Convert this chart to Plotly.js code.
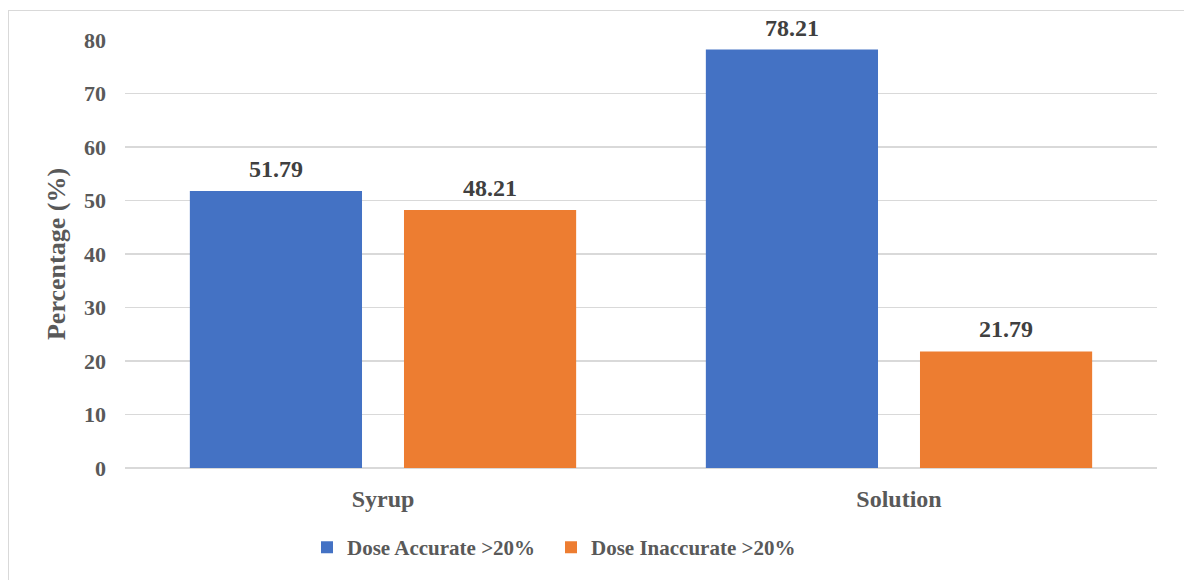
<!DOCTYPE html>
<html>
<head>
<meta charset="utf-8">
<script src="https://cdn.plot.ly/plotly-3.0.1.min.js"></script>
<style>
  html, body { margin: 0; padding: 0; background: #fff; overflow: hidden; }
  #wrap { position: relative; width: 1184px; height: 580px; }
  #frame { position: absolute; left: 8px; top: 10px; width: 1200px; height: 600px;
           border: 1.5px solid #d9d9d9; box-sizing: border-box; pointer-events: none; z-index: 2; }
  #chart { position: absolute; left: 0; top: 0; width: 1184px; height: 580px; }
</style>
</head>
<body>
<div id="wrap">
  <div id="chart"></div>
  <div id="frame"></div>
</div>
<script>
// Dose accuracy by formulation
const categories = ['Syrup', 'Solution'];
const accurate = [51.79, 78.21];
const inaccurate = [48.21, 21.79];
const seriesNames = ['Dose Accurate >20%', 'Dose Inaccurate >20%'];
const yTicks = [0, 10, 20, 30, 40, 50, 60, 70, 80];

const FONT = '"Liberation Serif", "Times New Roman", serif';
const W = 1184, H = 580;
const margin = { l: 125, r: 27, t: 40, b: 110, pad: 0 };
const bargap = 0.17;

// horizontal offset of each bar's centre from its category centre
const plotW = W - margin.l - margin.r;
const groupW = (plotW / categories.length) * (1 - bargap);
const shift = groupW / 4;

const traces = [
  { type: 'bar', name: seriesNames[0], x: categories, y: accurate,
    marker: { color: '#4472C4' }, hoverinfo: 'skip' },
  { type: 'bar', name: seriesNames[1], x: categories, y: inaccurate,
    marker: { color: '#ED7D31' }, hoverinfo: 'skip' }
];

const labelFont = { family: FONT, size: 24, color: '#404040', weight: 'bold' };
const annotations = [];
[accurate, inaccurate].forEach((vals, s) => {
  vals.forEach((v, i) => {
    annotations.push({
      x: categories[i], y: v, xref: 'x', yref: 'y',
      text: v.toFixed(2), showarrow: false,
      xanchor: 'center', yanchor: 'bottom',
      xshift: s === 0 ? -shift : shift, yshift: 7,
      font: labelFont
    });
  });
});

const layout = {
  width: W, height: H,
  margin: margin,
  paper_bgcolor: '#fff', plot_bgcolor: '#fff',
  barmode: 'group', bargap: bargap, bargroupgap: 0.196,
  font: { family: FONT, size: 22, color: '#595959', weight: 'bold' },
  xaxis: {
    type: 'category', showgrid: false, zeroline: false, showline: false,
    ticks: '', ticklabelstandoff: 14,
    tickfont: { family: FONT, size: 24, color: '#595959', weight: 'bold' }
  },
  yaxis: {
    range: [0, 80], tickvals: yTicks, ticktext: yTicks.map(String),
    showgrid: true, gridcolor: '#d9d9d9', gridwidth: 1.5,
    zeroline: true, zerolinecolor: '#d9d9d9', zerolinewidth: 1.5,
    showline: false, ticks: '', ticklabelstandoff: 18,
    tickfont: { family: FONT, size: 22, color: '#595959', weight: 'bold' },
    title: { text: 'Percentage (%)', standoff: 10,
             font: { family: FONT, size: 26, color: '#595959', weight: 'bold' } }
  },
  showlegend: true,
  legend: {
    orientation: 'h', x: 0.4128, xanchor: 'center', y: -0.186, yanchor: 'middle',
    entrywidth: 199,
    font: { family: FONT, size: 21, color: '#595959', weight: 'bold' },
    itemclick: false, itemdoubleclick: false
  },
  annotations: annotations
};

Plotly.newPlot('chart', traces, layout, { displayModeBar: false, staticPlot: true });
</script>
</body>
</html>
